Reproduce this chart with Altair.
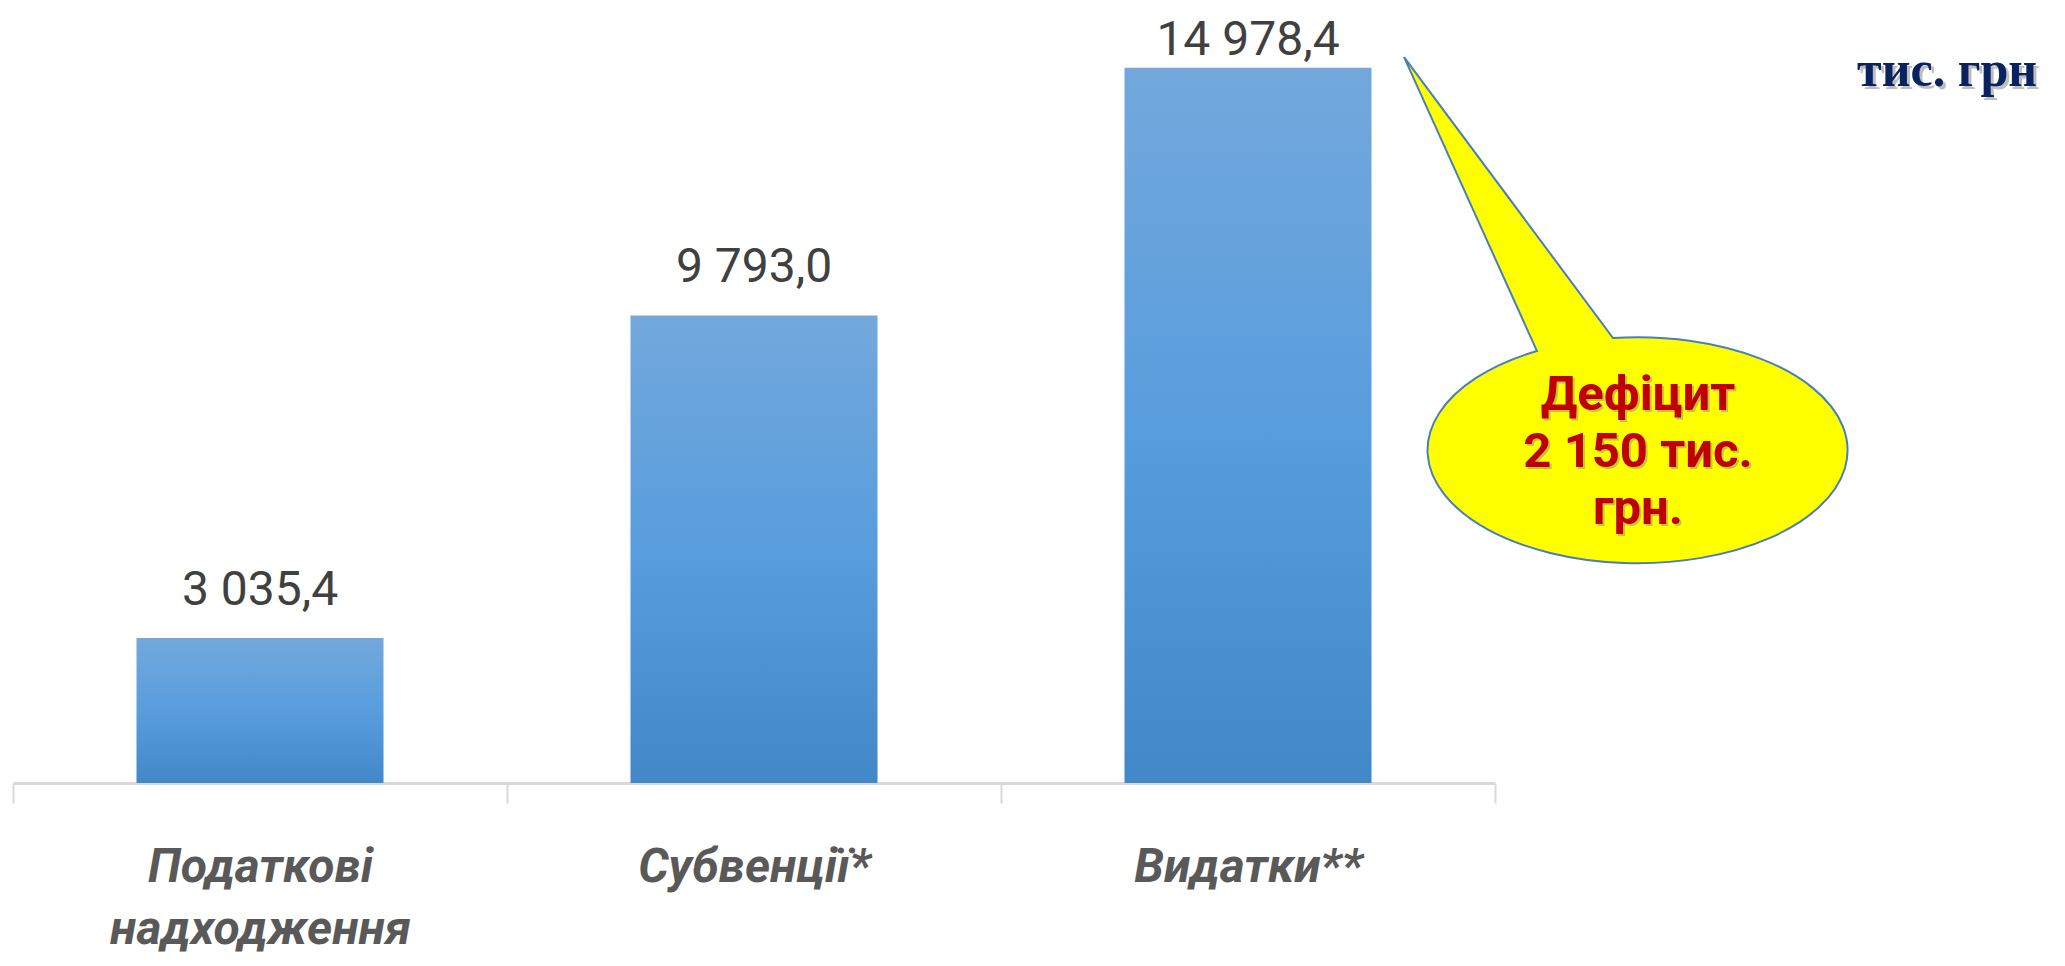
import altair as alt
import pandas as pd

# ---- data ----
categories = ["Податкові\nнадходження", "Субвенції*", "Видатки**"]
values = [3035.4, 9793.0, 14978.4]
value_labels = ["3 035,4", "9 793,0", "14 978,4"]
callout_text = "Дефіцит\n2 150 тис.\nгрн."
unit_text = "тис. грн"

df = pd.DataFrame({"cat": categories, "value": values, "label": value_labels})
one = pd.DataFrame({"t": [0]})

# ---- layout ----
W, H = 1482, 753
PAD_L, PAD_T = 5, 22
SANS = "Roboto, Liberation Sans, sans-serif"

x_enc = alt.X(
    "cat:N", sort=categories, title=None,
    scale=alt.Scale(paddingInner=0, paddingOuter=0),
    axis=alt.Axis(
        labelAngle=0,
        labelExpr="split(datum.label, '\\n')",
        labelFont=SANS, labelFontSize=48, labelFontStyle="italic",
        labelFontWeight="bold", labelColor="#595959",
        labelPadding=40, labelLineHeight=62, labelLimit=600,
        domainColor="#D9D9D9", domainWidth=3,
        tickColor="#D9D9D9", tickWidth=2, tickSize=20, tickBand="extent",
        labelOverlap=False,
    ),
)
y_scale = alt.Scale(domain=[0, 15770], nice=False, zero=True)

gradient = alt.LinearGradient(
    gradient="linear",
    stops=[
        alt.GradientStop(color="#73A8DC", offset=0),
        alt.GradientStop(color="#589DDD", offset=0.5),
        alt.GradientStop(color="#4287C7", offset=1),
    ],
    x1=0, x2=0, y1=0, y2=1,
)

bars = alt.Chart(df).mark_bar(fill=gradient, width=alt.RelativeBandSize(0.5)).encode(
    x=x_enc,
    y=alt.Y("value:Q", scale=y_scale, axis=None),
)

labels = alt.Chart(df).transform_calculate(
    label_y="min(datum.value, 14555)"
).mark_text(
    dy=-33, baseline="alphabetic", align="center",
    font=SANS, fontSize=48, color="#404040",
).encode(
    x=alt.X("cat:N", sort=categories),
    y=alt.Y("label_y:Q", scale=y_scale),
    text="label:N",
)

# callout: ellipse with pointer, one custom path (unit = half ellipse width)
callout_path = ("M -0.481 -0.476 L -1.114 -1.876 L -0.119 -0.538 "
                "A 1 0.538 0 1 1 -0.481 -0.476 Z")
CX, CY = 1638 - 8 - PAD_L, 451 - 8 - PAD_T
callout = alt.Chart(one).mark_point(
    shape=callout_path, size=420 * 420, filled=True, fill="#FFFF00",
    stroke="#4A7EBB", strokeWidth=2, opacity=1,
).encode(x=alt.value(CX), y=alt.value(CY))

callout_shadow = alt.Chart(one).mark_text(
    align="center", baseline="alphabetic", lineBreak="\n", lineHeight=57,
    font=SANS, fontWeight="bold", fontSize=49, color="#808080", opacity=0.45,
    dx=2, dy=2,
).encode(x=alt.value(CX), y=alt.value(410 - 8 - PAD_T), text=alt.value(callout_text))

callout_txt = alt.Chart(one).mark_text(
    align="center", baseline="alphabetic", lineBreak="\n", lineHeight=57,
    font=SANS, fontWeight="bold", fontSize=49, color="#C00000",
).encode(x=alt.value(CX), y=alt.value(410 - 8 - PAD_T), text=alt.value(callout_text))

unit_shadow = alt.Chart(one).mark_text(
    align="right", baseline="alphabetic",
    font="Liberation Serif, Times New Roman, serif", fontWeight="bold",
    fontSize=50, color="#7F7F7F", opacity=0.5, dx=3, dy=3,
).encode(x=alt.value(2037 - 8 - PAD_L), y=alt.value(86 - 8 - PAD_T), text=alt.value(unit_text))

unit_txt = alt.Chart(one).mark_text(
    align="right", baseline="alphabetic",
    font="Liberation Serif, Times New Roman, serif", fontWeight="bold",
    fontSize=50, color="#0B2260",
).encode(x=alt.value(2037 - 8 - PAD_L), y=alt.value(86 - 8 - PAD_T), text=alt.value(unit_text))

chart = alt.layer(
    bars, labels, callout, callout_shadow, callout_txt, unit_shadow, unit_txt
).properties(
    width=W, height=H,
    padding={"left": PAD_L, "top": PAD_T, "right": 2049 - W - PAD_L, "bottom": 950 - H - PAD_T},
    autosize=alt.AutoSizeParams(type="none"),
    background="white",
).configure_view(stroke=None)

chart.save("out.html", embed_options={"renderer": "svg", "actions": False})
